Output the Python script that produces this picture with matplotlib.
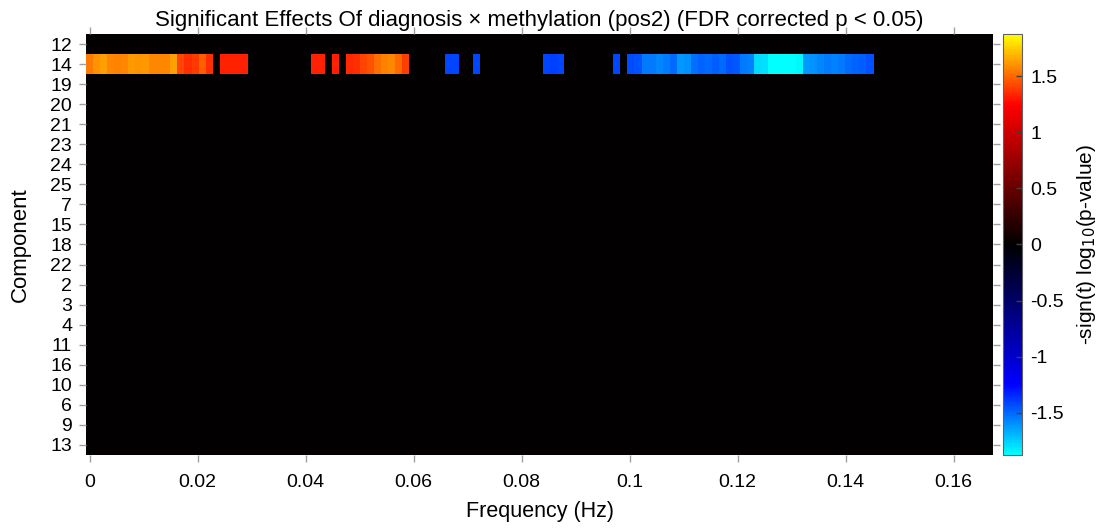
import numpy as np
import matplotlib
matplotlib.use('Agg')
import matplotlib.pyplot as plt
from matplotlib.colors import LinearSegmentedColormap

plt.rcParams['font.family'] = ['Liberation Sans', 'DejaVu Sans']

# Component order as plotted (top to bottom)
components = ['12', '14', '19', '20', '21', '23', '24', '25', '7', '15', '18',
              '22', '2', '3', '4', '11', '16', '10', '6', '9', '13']

# Frequency bins: TR = 3 s, 129 bins from 0 to Nyquist
n_bins = 129
f_nyq = 1.0 / 6.0

# Significant bins for component 14 (bin index -> -sign(t) log10(p))
sig_bins_14 = [0, 1, 2, 3, 4, 5, 6, 7, 8, 9, 10, 11, 12, 13, 14, 15, 16, 17,
               19, 20, 21, 22,
               32, 33, 35,
               37, 38, 39, 40, 41, 42, 43, 44, 45,
               51, 52, 55, 65, 66, 67, 75,
               77, 78, 79, 80, 81, 82, 83, 84, 85, 86, 87, 88, 89, 90, 91, 92,
               93, 94, 95, 96, 97, 98, 99, 100, 101, 102, 103, 104, 105, 106,
               107, 108, 109, 110, 111]
sig_vals_14 = [1.55, 1.60, 1.63, 1.57, 1.56, 1.58, 1.62, 1.60, 1.62, 1.58, 1.57, 1.58, 1.63, 1.42, 1.35, 1.38, 1.47, 1.36,
               1.33, 1.33, 1.33, 1.33,
               1.33, 1.33, 1.33,
               1.34, 1.36, 1.42, 1.45, 1.52, 1.56, 1.57, 1.50, 1.40,
               -1.42, -1.42, -1.42, -1.42, -1.40, -1.42, -1.42,
               -1.43, -1.45, -1.55, -1.55, -1.57, -1.55, -1.50, -1.62, -1.60, -1.52, -1.48, -1.50, -1.47, -1.50, -1.45, -1.46,
               -1.55, -1.56, -1.78, -1.80, -1.875, -1.875, -1.875, -1.87, -1.86, -1.62, -1.60, -1.58,
               -1.55, -1.56, -1.55, -1.50, -1.48, -1.47, -1.45]

clim = 1.875

# build the matrix (non-significant entries are zero)
mat = np.zeros((len(components), n_bins))
row = components.index('14')
mat[row, sig_bins_14] = sig_vals_14

df = f_nyq / (n_bins - 1)
freqs = np.arange(n_bins) * df
x_edges = np.append(freqs - df / 2, freqs[-1] + df / 2)
y_edges = np.arange(len(components) + 1) - 0.5

# cold-black-hot map: cyan -> blue -> black -> red -> yellow
cmap = LinearSegmentedColormap.from_list(
    'coldhot',
    [(0.0, (0, 1, 1)), (1 / 6, (0, 0, 1)), (0.5, (0, 0, 0)),
     (5 / 6, (1, 0, 0)), (1.0, (1, 1, 0))], N=256)

fig = plt.figure(figsize=(10.99, 5.28), dpi=100)
ax = fig.add_axes([0.0783, 0.1383, 0.8253, 0.7973])
cax = fig.add_axes([0.9126, 0.1383, 0.0173, 0.7973])

mesh = ax.pcolormesh(x_edges, y_edges, mat, cmap=cmap, vmin=-clim, vmax=clim)
ax.set_xlim(x_edges[0], x_edges[-1])
ax.set_ylim(y_edges[-1], y_edges[0])

xt = [0, 0.02, 0.04, 0.06, 0.08, 0.1, 0.12, 0.14, 0.16]
ax.set_xticks(xt)
ax.set_xticklabels(['0', '0.02', '0.04', '0.06', '0.08', '0.1', '0.12', '0.14', '0.16'])
ax.set_yticks(np.arange(len(components)))
ax.set_yticklabels(components)
ax.tick_params(axis='both', direction='out', length=5, width=1, color='#a0a0a0',
               labelsize=14, top=True, right=True, labeltop=False, labelright=False)
ax.tick_params(axis='x', pad=9)
ax.tick_params(axis='y', pad=5)
for s in ax.spines.values():
    s.set_visible(False)

ax.set_title('Significant Effects Of diagnosis \u00d7 methylation (pos2) (FDR corrected p < 0.05)',
             fontsize=16, pad=6)
ax.set_xlabel('Frequency (Hz)', fontsize=15.5, labelpad=7)
ax.set_ylabel('Component', fontsize=16, labelpad=14)

cb = fig.colorbar(mesh, cax=cax)
cb.set_ticks([-1.5, -1, -0.5, 0, 0.5, 1, 1.5])
cb.set_ticklabels(['-1.5', '-1', '-0.5', '0', '0.5', '1', '1.5'])
cb.ax.tick_params(direction='in', length=4, width=1, color='#404040', labelsize=14, pad=6)
cb.outline.set_edgecolor('#606060')
cb.outline.set_linewidth(0.8)
cb.set_label('-sign(t) log$_{10}$(p-value)', fontsize=15, labelpad=8)

fig.savefig('out.png', dpi=100)
